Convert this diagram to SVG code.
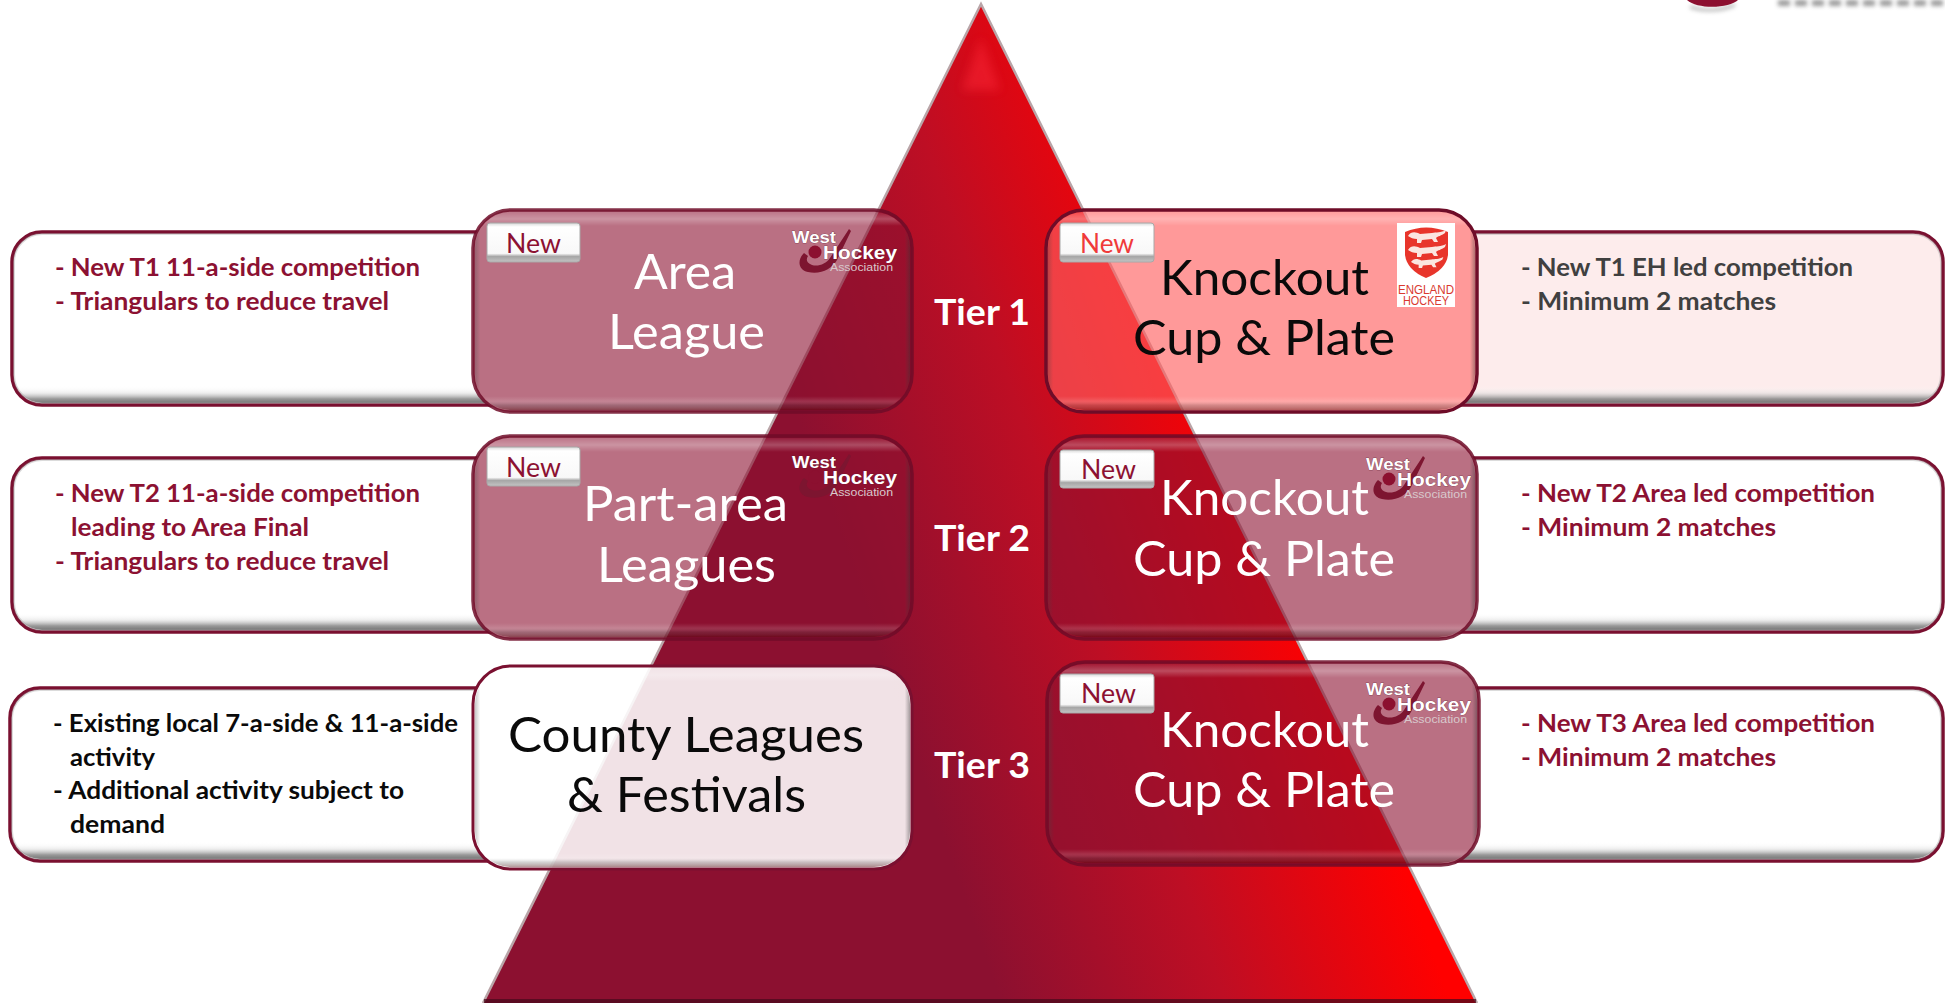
<svg xmlns="http://www.w3.org/2000/svg" xmlns:xlink="http://www.w3.org/1999/xlink" width="1945" height="1003" viewBox="0 0 1945 1003">
<style>
text{font-family:Lato,"Liberation Sans",sans-serif}
.list{font-size:25px;font-weight:700;fill:#8c1132}
.big{font-size:49px;text-anchor:start;fill:#fff}
.dark{fill:#0a0a0a}
.blk{fill:#0a0a0a}
.gry{fill:#404040}
.new{font-size:27px;fill:#8c1132}
.tier{font-size:36px;font-weight:700;fill:#fff}
.wh{font-family:"Liberation Sans",sans-serif;font-weight:700;fill:#fff;stroke:#5a2030;stroke-width:.5;paint-order:stroke}
.as{font-family:"Liberation Sans",sans-serif;font-size:11px;fill:#d8c8cc}
.eh{font-family:"Liberation Sans",sans-serif;font-size:12.5px;fill:#d93a30}
.panel{stroke:#7a1030;stroke-width:3.5;clip-path:url(#outsideBoxes)}
.ctr{fill:#8c1030;fill-opacity:.6;stroke:#6e0c28;stroke-opacity:.85;stroke-width:3.5}
.bevV{fill:url(#bevV)}
.bevP{fill:url(#bevP);stroke:#999;stroke-opacity:.35;stroke-width:2;clip-path:url(#outsideBoxes)}
.bevH{fill:url(#bevH)}
.badge{fill:url(#badge);stroke:#a8a8a8;stroke-width:1}
</style>
<defs>
<clipPath id="outsideBoxes">
<path clip-rule="evenodd" d="M0 0H1945V1003H0Z
M511 210H874A38 38 0 0 1 912 248V374A38 38 0 0 1 874 412H511A38 38 0 0 1 473 374V248A38 38 0 0 1 511 210Z
M511 436H874A38 38 0 0 1 912 474V601A38 38 0 0 1 874 639H511A38 38 0 0 1 473 601V474A38 38 0 0 1 511 436Z
M511 666H874A38 38 0 0 1 912 704V831A38 38 0 0 1 874 869H511A38 38 0 0 1 473 831V704A38 38 0 0 1 511 666Z
M1084 210H1439A38 38 0 0 1 1477 248V374A38 38 0 0 1 1439 412H1084A38 38 0 0 1 1046 374V248A38 38 0 0 1 1084 210Z
M1084 436H1439A38 38 0 0 1 1477 474V601A38 38 0 0 1 1439 639H1084A38 38 0 0 1 1046 601V474A38 38 0 0 1 1084 436Z
M1085 662H1441A38 38 0 0 1 1479 700V827A38 38 0 0 1 1441 865H1085A38 38 0 0 1 1047 827V700A38 38 0 0 1 1085 662Z"/>
</clipPath>
<linearGradient id="tri" gradientUnits="userSpaceOnUse" x1="1000" y1="1000" x2="1401" y2="860">
<stop offset="0" stop-color="#8c1030"/><stop offset=".5" stop-color="#be0e24"/><stop offset="1" stop-color="#ff0000"/>
</linearGradient>
<linearGradient id="bevV" x1="0" y1="0" x2="0" y2="1">
<stop offset="0" stop-color="#fff" stop-opacity=".05"/><stop offset=".035" stop-color="#fff" stop-opacity=".25"/><stop offset=".07" stop-color="#fff" stop-opacity="0"/>
<stop offset=".93" stop-color="#fff" stop-opacity="0"/><stop offset=".955" stop-color="#fff" stop-opacity=".14"/><stop offset=".975" stop-color="#555" stop-opacity=".25"/><stop offset="1" stop-color="#400" stop-opacity=".4"/>
</linearGradient>
<linearGradient id="bevP" x1="0" y1="0" x2="0" y2="1">
<stop offset="0" stop-color="#fff" stop-opacity="0"/>
<stop offset=".9" stop-color="#fff" stop-opacity="0"/><stop offset=".94" stop-color="#ddd" stop-opacity=".5"/><stop offset=".975" stop-color="#888" stop-opacity=".85"/><stop offset="1" stop-color="#555" stop-opacity=".8"/>
</linearGradient>
<linearGradient id="bevH" x1="0" y1="0" x2="1" y2="0">
<stop offset="0" stop-color="#444" stop-opacity=".3"/><stop offset=".012" stop-color="#444" stop-opacity="0"/><stop offset=".988" stop-color="#444" stop-opacity="0"/><stop offset="1" stop-color="#333" stop-opacity=".4"/>
</linearGradient>
<linearGradient id="badge" x1="0" y1="0" x2="0" y2="1">
<stop offset="0" stop-color="#d8d8d8"/><stop offset=".1" stop-color="#fff"/><stop offset=".78" stop-color="#f8f8f8"/><stop offset=".86" stop-color="#a6a6a6"/><stop offset="1" stop-color="#c4c4c4"/>
</linearGradient>
<filter id="blur" filterUnits="userSpaceOnUse" x="1670" y="-10" width="275" height="40"><feGaussianBlur stdDeviation="2"/></filter>
<filter id="blurA" x="-50%" y="-50%" width="200%" height="200%"><feGaussianBlur stdDeviation="5"/></filter>
<g id="stick">
<path d="M849 229L830 258C826 264 818 267 812 265C806 263 806 259 808 256L804 253C797 260 798 270 808 272C820 275 832 269 837 260L851 231Z" fill="#7d1530"/>
<circle cx="815" cy="252" r="6.5" fill="#8c1030"/>
</g>
<path id="lion" d="M0 6C3 1 8 2 12 4L24 3C28 2 33 3 38 0L37 3C33 6 30 6 28 8L30 12H26L24 9L14 10L13 13H9L9 9C5 9 3 8 0 6Z" fill="#fbe6e0"/>
</defs>

<g id="background">
<rect width="1945" height="1003" fill="#fff"/>
</g>
<g id="top-logo-fragment">
<path d="M1690 7Q1712 14 1735 5" fill="none" stroke="#999" stroke-width="3" filter="url(#blur)" opacity=".7"/>
<path d="M1687 0H1738C1730 8 1698 10 1687 0Z" fill="#8c1030"/>
<path d="M1778 3H1945" fill="none" stroke="#8a8a8a" stroke-width="6" stroke-dasharray="12 5" filter="url(#blur)" opacity=".85"/>
</g>
<g id="pyramid">
<path d="M981 4L1477 1003H483Z" fill="url(#tri)"/>
<path d="M981 38L1000 90L962 90Z" fill="#ff2a3a" filter="url(#blurA)" opacity=".45"/>
<path d="M483 1003L981 4L1477 1003" fill="none" stroke="#b9a5a8" stroke-width="2.5"/>
<path d="M484 1001H1476" stroke="#4a0a1c" stroke-width="4" opacity=".75"/>
</g>

<g id="connectors"></g>

<g id="panel-t1-left">
<path class="panel" d="M520 232H42A30 30 0 0 0 12 262V375A30 30 0 0 0 42 405H520Z" fill="#fff"/>
<path class="bevP" d="M520 234H42A28 28 0 0 0 14 262V375A28 28 0 0 0 42 403H520Z"/>
<text class="list" x="55" y="276" textLength="365" lengthAdjust="spacingAndGlyphs">- New T1 11-a-side competition</text>
<text class="list" x="55" y="310" textLength="334" lengthAdjust="spacingAndGlyphs">- Triangulars to reduce travel</text>
</g>
<g id="panel-t2-left">
<path class="panel" d="M520 458H42A30 30 0 0 0 12 488V602A30 30 0 0 0 42 632H520Z" fill="#fff"/>
<path class="bevP" d="M520 460H42A28 28 0 0 0 14 488V602A28 28 0 0 0 42 630H520Z"/>
<text class="list" x="55" y="502" textLength="365" lengthAdjust="spacingAndGlyphs">- New T2 11-a-side competition</text>
<text class="list" x="71" y="536" textLength="238" lengthAdjust="spacingAndGlyphs">leading to Area Final</text>
<text class="list" x="55" y="570" textLength="334" lengthAdjust="spacingAndGlyphs">- Triangulars to reduce travel</text>
</g>
<g id="panel-t3-left">
<path class="panel" d="M520 688H40A30 30 0 0 0 10 718V831A30 30 0 0 0 40 861H520Z" fill="#fff"/>
<path class="bevP" d="M520 690H40A28 28 0 0 0 12 718V831A28 28 0 0 0 40 859H520Z"/>
<text class="list blk" x="53" y="732" textLength="405" lengthAdjust="spacingAndGlyphs">- Existing local 7-a-side &amp; 11-a-side</text>
<text class="list blk" x="70" y="766" textLength="85" lengthAdjust="spacingAndGlyphs">activity</text>
<text class="list blk" x="53" y="799" textLength="351" lengthAdjust="spacingAndGlyphs">- Additional activity subject to</text>
<text class="list blk" x="70" y="833" textLength="95" lengthAdjust="spacingAndGlyphs">demand</text>
</g>
<g id="panel-t1-right">
<path class="panel" d="M1430 232H1913A30 30 0 0 1 1943 262V375A30 30 0 0 1 1913 405H1430Z" fill="#fdecec"/>
<path class="bevP" d="M1430 234H1913A28 28 0 0 1 1941 262V375A28 28 0 0 1 1913 403H1430Z"/>
<text class="list gry" x="1521" y="276" textLength="332" lengthAdjust="spacingAndGlyphs">- New T1 EH led competition</text>
<text class="list gry" x="1521" y="310" textLength="255" lengthAdjust="spacingAndGlyphs">- Minimum 2 matches</text>
</g>
<g id="panel-t2-right">
<path class="panel" d="M1430 458H1913A30 30 0 0 1 1943 488V602A30 30 0 0 1 1913 632H1430Z" fill="#fff"/>
<path class="bevP" d="M1430 460H1913A28 28 0 0 1 1941 488V602A28 28 0 0 1 1913 630H1430Z"/>
<text class="list" x="1521" y="502" textLength="354" lengthAdjust="spacingAndGlyphs">- New T2 Area led competition</text>
<text class="list" x="1521" y="536" textLength="255" lengthAdjust="spacingAndGlyphs">- Minimum 2 matches</text>
</g>
<g id="panel-t3-right">
<path class="panel" d="M1430 688H1913A30 30 0 0 1 1943 718V831A30 30 0 0 1 1913 861H1430Z" fill="#fff"/>
<path class="bevP" d="M1430 690H1913A28 28 0 0 1 1941 718V831A28 28 0 0 1 1913 859H1430Z"/>
<text class="list" x="1521" y="732" textLength="354" lengthAdjust="spacingAndGlyphs">- New T3 Area led competition</text>
<text class="list" x="1521" y="766" textLength="255" lengthAdjust="spacingAndGlyphs">- Minimum 2 matches</text>
</g>

<g id="box-area-league">
<rect class="ctr" x="473" y="210" width="439" height="202" rx="38"/>
<rect class="bevV" x="475" y="212" width="435" height="198" rx="36"/>
<rect class="bevH" x="475" y="212" width="435" height="198" rx="36"/>
<rect class="badge" x="487" y="223" width="93" height="39" rx="3"/>
<text class="new" x="506" y="253" textLength="55" lengthAdjust="spacingAndGlyphs">New</text>
<text class="big" x="634" y="289" textLength="102" lengthAdjust="spacingAndGlyphs">Area</text>
<text class="big" x="608" y="349" textLength="157" lengthAdjust="spacingAndGlyphs">League</text>
<use xlink:href="#stick" href="#stick"/>
<text class="wh" x="792" y="243" font-size="17" textLength="44" lengthAdjust="spacingAndGlyphs">West</text>
<text class="wh" x="823" y="259" font-size="19" textLength="74" lengthAdjust="spacingAndGlyphs">Hockey</text>
<text class="as" x="830" y="271" textLength="63" lengthAdjust="spacingAndGlyphs">Association</text>
</g>
<g id="box-part-area-leagues">
<rect class="ctr" x="473" y="436" width="439" height="203" rx="38"/>
<rect class="bevV" x="475" y="438" width="435" height="199" rx="36"/>
<rect class="bevH" x="475" y="438" width="435" height="199" rx="36"/>
<rect class="badge" x="487" y="447" width="93" height="39" rx="3"/>
<text class="new" x="506" y="477" textLength="55" lengthAdjust="spacingAndGlyphs">New</text>
<text class="big" x="583" y="521" textLength="205" lengthAdjust="spacingAndGlyphs">Part-area</text>
<text class="big" x="597" y="582" textLength="179" lengthAdjust="spacingAndGlyphs">Leagues</text>
<use xlink:href="#stick" href="#stick" y="225"/>
<text class="wh" x="792" y="468" font-size="17" textLength="44" lengthAdjust="spacingAndGlyphs">West</text>
<text class="wh" x="823" y="484" font-size="19" textLength="74" lengthAdjust="spacingAndGlyphs">Hockey</text>
<text class="as" x="830" y="496" textLength="63" lengthAdjust="spacingAndGlyphs">Association</text>
</g>
<g id="box-county-leagues">
<rect x="473" y="666" width="439" height="203" rx="38" fill="#fff" fill-opacity=".88" stroke="#7a1030" stroke-width="3"/>
<rect class="bevV" x="475" y="668" width="435" height="199" rx="36"/>
<rect class="bevH" x="475" y="668" width="435" height="199" rx="36"/>
<text class="big dark" x="508" y="752" textLength="356" lengthAdjust="spacingAndGlyphs">County Leagues</text>
<text class="big dark" x="567" y="812" textLength="239" lengthAdjust="spacingAndGlyphs">&amp; Festivals</text>
</g>

<g id="box-knockout-t1">
<rect x="1046" y="210" width="431" height="202" rx="38" fill="#ff5f5f" fill-opacity=".64" stroke="#6e0c28" stroke-width="3.5"/>
<rect class="bevV" x="1048" y="212" width="427" height="198" rx="36"/>
<rect class="bevH" x="1048" y="212" width="427" height="198" rx="36"/>
<rect class="badge" x="1060" y="223" width="94" height="39" rx="3"/>
<text class="new" x="1080" y="253" textLength="54" lengthAdjust="spacingAndGlyphs" style="fill:#f03a3a">New</text>
<text class="big dark" x="1160" y="295" textLength="209" lengthAdjust="spacingAndGlyphs">Knockout</text>
<text class="big dark" x="1133" y="355" textLength="262" lengthAdjust="spacingAndGlyphs">Cup &amp; Plate</text>
<rect x="1397" y="223" width="58" height="84" fill="#fff"/>
<path d="M1405 232Q1426 223 1448 232V255Q1446 270 1426 278Q1407 270 1405 255Z" fill="#e8352b"/>
<use xlink:href="#lion" href="#lion" x="1408" y="230"/>
<use xlink:href="#lion" href="#lion" x="1408" y="244"/>
<use xlink:href="#lion" href="#lion" transform="translate(1411 257) scale(.85)"/>
<text class="eh" x="1398" y="294" textLength="56" lengthAdjust="spacingAndGlyphs">ENGLAND</text>
<text class="eh" x="1403" y="305" textLength="46" lengthAdjust="spacingAndGlyphs">HOCKEY</text>
</g>
<g id="box-knockout-t2">
<rect class="ctr" x="1046" y="436" width="431" height="203" rx="38"/>
<rect class="bevV" x="1048" y="438" width="427" height="199" rx="36"/>
<rect class="bevH" x="1048" y="438" width="427" height="199" rx="36"/>
<rect class="badge" x="1060" y="450" width="94" height="38" rx="3"/>
<text class="new" x="1081" y="479" textLength="55" lengthAdjust="spacingAndGlyphs">New</text>
<text class="big" x="1160" y="515" textLength="209" lengthAdjust="spacingAndGlyphs">Knockout</text>
<text class="big" x="1133" y="576" textLength="262" lengthAdjust="spacingAndGlyphs">Cup &amp; Plate</text>
<use xlink:href="#stick" href="#stick" x="574" y="227"/>
<text class="wh" x="1366" y="470" font-size="17" textLength="44" lengthAdjust="spacingAndGlyphs">West</text>
<text class="wh" x="1397" y="486" font-size="19" textLength="74" lengthAdjust="spacingAndGlyphs">Hockey</text>
<text class="as" x="1404" y="498" textLength="63" lengthAdjust="spacingAndGlyphs">Association</text>
</g>
<g id="box-knockout-t3">
<rect class="ctr" x="1047" y="662" width="432" height="203" rx="38"/>
<rect class="bevV" x="1049" y="664" width="428" height="199" rx="36"/>
<rect class="bevH" x="1049" y="664" width="428" height="199" rx="36"/>
<rect class="badge" x="1060" y="674" width="94" height="39" rx="3"/>
<text class="new" x="1081" y="703" textLength="55" lengthAdjust="spacingAndGlyphs">New</text>
<text class="big" x="1160" y="747" textLength="209" lengthAdjust="spacingAndGlyphs">Knockout</text>
<text class="big" x="1133" y="807" textLength="262" lengthAdjust="spacingAndGlyphs">Cup &amp; Plate</text>
<use xlink:href="#stick" href="#stick" x="574" y="452"/>
<text class="wh" x="1366" y="695" font-size="17" textLength="44" lengthAdjust="spacingAndGlyphs">West</text>
<text class="wh" x="1397" y="711" font-size="19" textLength="74" lengthAdjust="spacingAndGlyphs">Hockey</text>
<text class="as" x="1404" y="723" textLength="63" lengthAdjust="spacingAndGlyphs">Association</text>
</g>

<g id="tier-1"><text class="tier" x="934" y="325" textLength="96" lengthAdjust="spacingAndGlyphs">Tier 1</text></g>
<g id="tier-2"><text class="tier" x="934" y="551" textLength="96" lengthAdjust="spacingAndGlyphs">Tier 2</text></g>
<g id="tier-3"><text class="tier" x="934" y="778" textLength="96" lengthAdjust="spacingAndGlyphs">Tier 3</text></g>
</svg>
